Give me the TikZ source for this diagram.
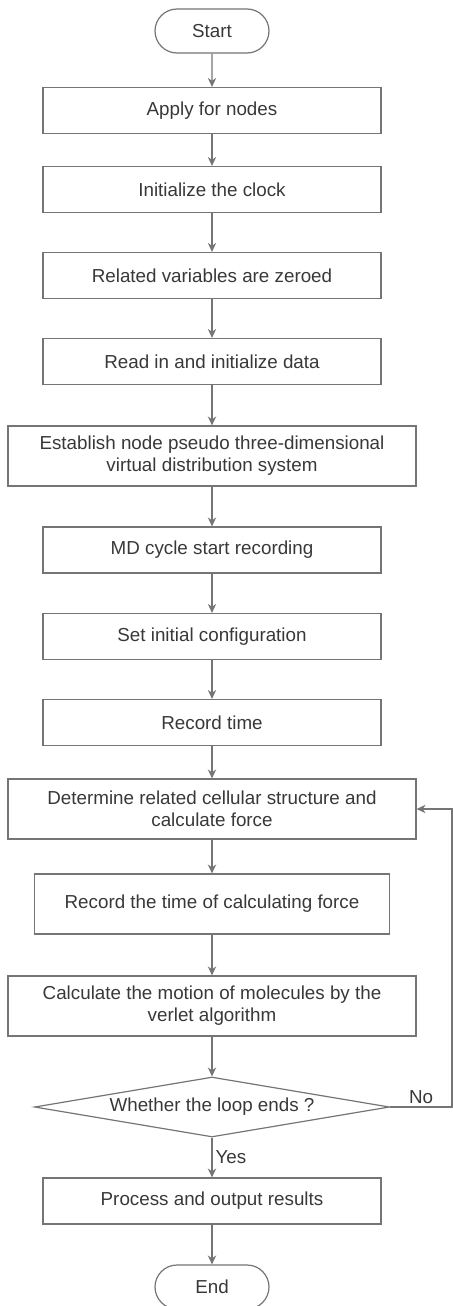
\documentclass[tikz,border=0pt]{standalone}
\usepackage{fontspec}
\setmainfont{Liberation Sans}
\usetikzlibrary{arrows.meta,shapes.geometric,shapes.misc}
\definecolor{linegray}{HTML}{757575}
\definecolor{textgray}{HTML}{383838}

\begin{document}
\begin{tikzpicture}[x=0.5pt, y=-0.5pt, line width=0.6pt, >={Stealth[length=4.5pt,width=4.2pt]},
	every node/.style={font=\fontsize{9.4}{11}\selectfont, text=textgray, inner sep=0pt},
	term/.style={draw=linegray, rounded rectangle, minimum width=57pt, minimum height=22pt},
	proc/.style={draw=linegray, rectangle, minimum width=169pt, minimum height=23pt, align=center},
	wide/.style={proc, minimum width=204pt, minimum height=30pt},
	test/.style={draw=linegray, diamond, aspect=6, minimum width=177.5pt, minimum height=30pt},
	flow/.style={draw=linegray, ->}]
	\useasboundingbox (0,0) rectangle (453,1306);
	% steps, top to bottom
	\node[term] (start) at (212,31) {Start};
	\node[proc] (apply) at (212,110.5) {Apply for nodes};
	\node[proc] (clock) at (212,189.5) {Initialize the clock};
	\node[proc] (zero) at (212,275.5) {Related variables are zeroed};
	\node[proc] (read) at (212,361.5) {Read in and initialize data};
	\node[wide] (build) at (212,456) {Establish node pseudo three-dimensional\\virtual distribution system};
	\node[proc] (mdstart) at (212,550) {MD cycle start recording};
	\node[proc] (config) at (212,636.5) {Set initial configuration};
	\node[proc] (rtime) at (212,722.5) {Record time};
	\node[wide] (force) at (212,809) {Determine related cellular structure and\\calculate force};
	\node[proc, minimum width=177.5pt, minimum height=30pt] (rforce) at (212,904) {Record the time of calculating force};
	\node[wide] (verlet) at (212,1006) {Calculate the motion of molecules by the\\verlet algorithm};
	\node[test] (loop) at (212,1107) {Whether the loop ends ?};
	\node[proc] (output) at (212,1201) {Process and output results};
	\node[term] (stop) at (212,1287) {End};
	% main line
	\foreach \a/\b in {start/apply,apply/clock,clock/zero,zero/read,read/build,build/mdstart,
		mdstart/config,config/rtime,rtime/force,force/rforce,rforce/verlet,verlet/loop,output/stop}
	{\draw[flow] (\a) -- (\b);}
	\draw[flow] (loop) -- node[right=1.5pt] {Yes} (output);
	% back to the force step
	\coordinate (back) at (452,1107);
	\draw[flow] (loop.east) -- node[above=1.5pt] {No} (back) |- (force.east);
\end{tikzpicture}
\end{document}
